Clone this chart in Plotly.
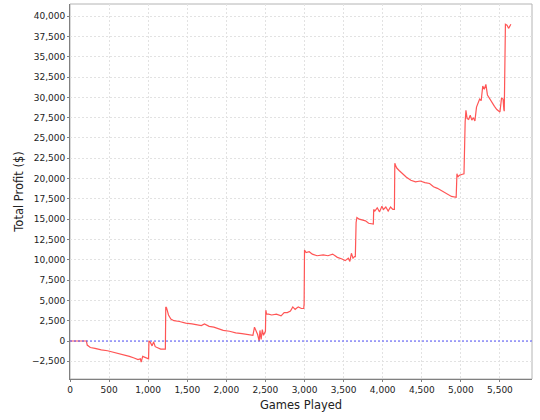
import plotly.graph_objects as go

# games played vs running total profit
games = [0, 210, 220, 260, 320, 400, 480, 560, 640, 700, 760, 820, 870, 900, 910, 930, 960, 1000, 1005,
         1010, 1030, 1050, 1070, 1090, 1120, 1160, 1220, 1225, 1235, 1260, 1290, 1330, 1400, 1480,
         1560, 1620, 1680, 1720, 1750, 1780, 1840, 1900, 1960, 2040, 2120, 2200, 2280, 2340, 2360,
         2380, 2400, 2420, 2430, 2445, 2460, 2475, 2490, 2500, 2505, 2515, 2540, 2580, 2640, 2700,
         2740, 2780, 2820, 2850, 2880, 2920, 2960, 2990, 2995, 3000, 3020, 3060, 3100, 3160, 3240,
         3300, 3360, 3420, 3480, 3520, 3560, 3580, 3600, 3620, 3640, 3650, 3660, 3670, 3700, 3740,
         3780, 3820, 3860, 3880, 3885, 3900, 3930, 3960, 3990, 4010, 4040, 4070, 4100, 4130, 4150,
         4155, 4165, 4180, 4210, 4250, 4300, 4360, 4420, 4480, 4540, 4600, 4650, 4700, 4760, 4820,
         4880, 4940, 4950, 4960, 4980, 5010, 5040, 5055, 5065, 5080, 5100, 5120, 5140, 5160, 5180,
         5200, 5220, 5240, 5260, 5280, 5300, 5320, 5340, 5370, 5400, 5430, 5460, 5480, 5500, 5520,
         5540, 5550, 5555, 5570, 5590, 5610, 5640]
profit = [0, 0, -500, -800, -900, -1100, -1200, -1400, -1600, -1700, -1900, -2100, -2300, -2200, -2600,
          -1900, -2000, -2200, -2200, 0, -200, -600, -100, -700, -800, -1000, -1000, 4200, 4100,
          3200, 2700, 2500, 2400, 2200, 2100, 2000, 1900, 2100, 1900, 1800, 1700, 1500, 1300, 1200,
          1000, 900, 800, 700, 1700, 1200, 800, 0, 1300, 200, 1400, 700, 1200, 1200, 3800, 3300,
          3300, 3200, 3300, 3100, 3500, 3500, 3700, 4200, 3900, 4200, 4000, 4000, 4600, 11200, 10900,
          11000, 10700, 10500, 10600, 10500, 10700, 10300, 10100, 9900, 10200, 9800, 10800, 10200,
          10400, 10400, 14600, 15200, 15000, 14900, 14800, 14500, 14400, 14400, 16200, 16000, 16400,
          15900, 16600, 16200, 16500, 16000, 16500, 16200, 16200, 21900, 21600, 21300, 21000, 20600,
          20200, 19800, 19600, 19700, 19500, 19400, 19000, 18800, 18500, 18100, 17800, 17700, 20600,
          20200, 20400, 20500, 20600, 27000, 28400, 27400, 27300, 27800, 27200, 27500, 27100, 28800,
          29400, 29800, 29600, 31400, 31000, 31600, 30300, 29800, 29300, 28900, 28500, 28400, 28200,
          29900, 29800, 28500, 28300, 39000, 38900, 38500, 39000, 39400]

fig = go.Figure()

fig.add_trace(go.Scatter(
    x=games, y=profit, mode="lines",
    line=dict(color="#FF5555", width=1.2),
    hoverinfo="skip"
))

# plot outline, then the dotted zero marker
fig.add_shape(type="rect", xref="paper", yref="paper", x0=0, y0=0, x1=1, y1=1,
              line=dict(color="#B4B4B4", width=1, dash="solid"), layer="below")
fig.add_hline(y=0, line=dict(color="#5555FF", width=1, dash="2px,2px"))

font = dict(family="DejaVu Sans", size=9, color="#222222")
axis_style = dict(
    showgrid=True, gridcolor="#E2E2E2", griddash="2px,2px", gridwidth=1,
    zeroline=False, showline=True, linecolor="#808080", linewidth=1,
    ticks="outside", ticklen=2, tickcolor="#808080",
    tickfont=font, tickformat=",", automargin=False
)

title_font = dict(family="DejaVu Sans", size=11.5, color="#222222")
fig.update_xaxes(range=[0, 5910], dtick=500, tick0=0,
                 title=dict(text="Games Played", font=title_font, standoff=7),
                 **axis_style)
fig.update_yaxes(range=[-4680, 41500], dtick=2500, tick0=0,
                 title=dict(text="Total Profit ($)", font=title_font, standoff=5),
                 **axis_style)

fig.update_layout(
    width=540, height=420,
    margin=dict(l=70, r=8, t=4, b=41),
    paper_bgcolor="white", plot_bgcolor="white",
    showlegend=False
)

fig.write_html("out.html", config={"displayModeBar": False},
               post_script="document.body.style.margin='0';")
